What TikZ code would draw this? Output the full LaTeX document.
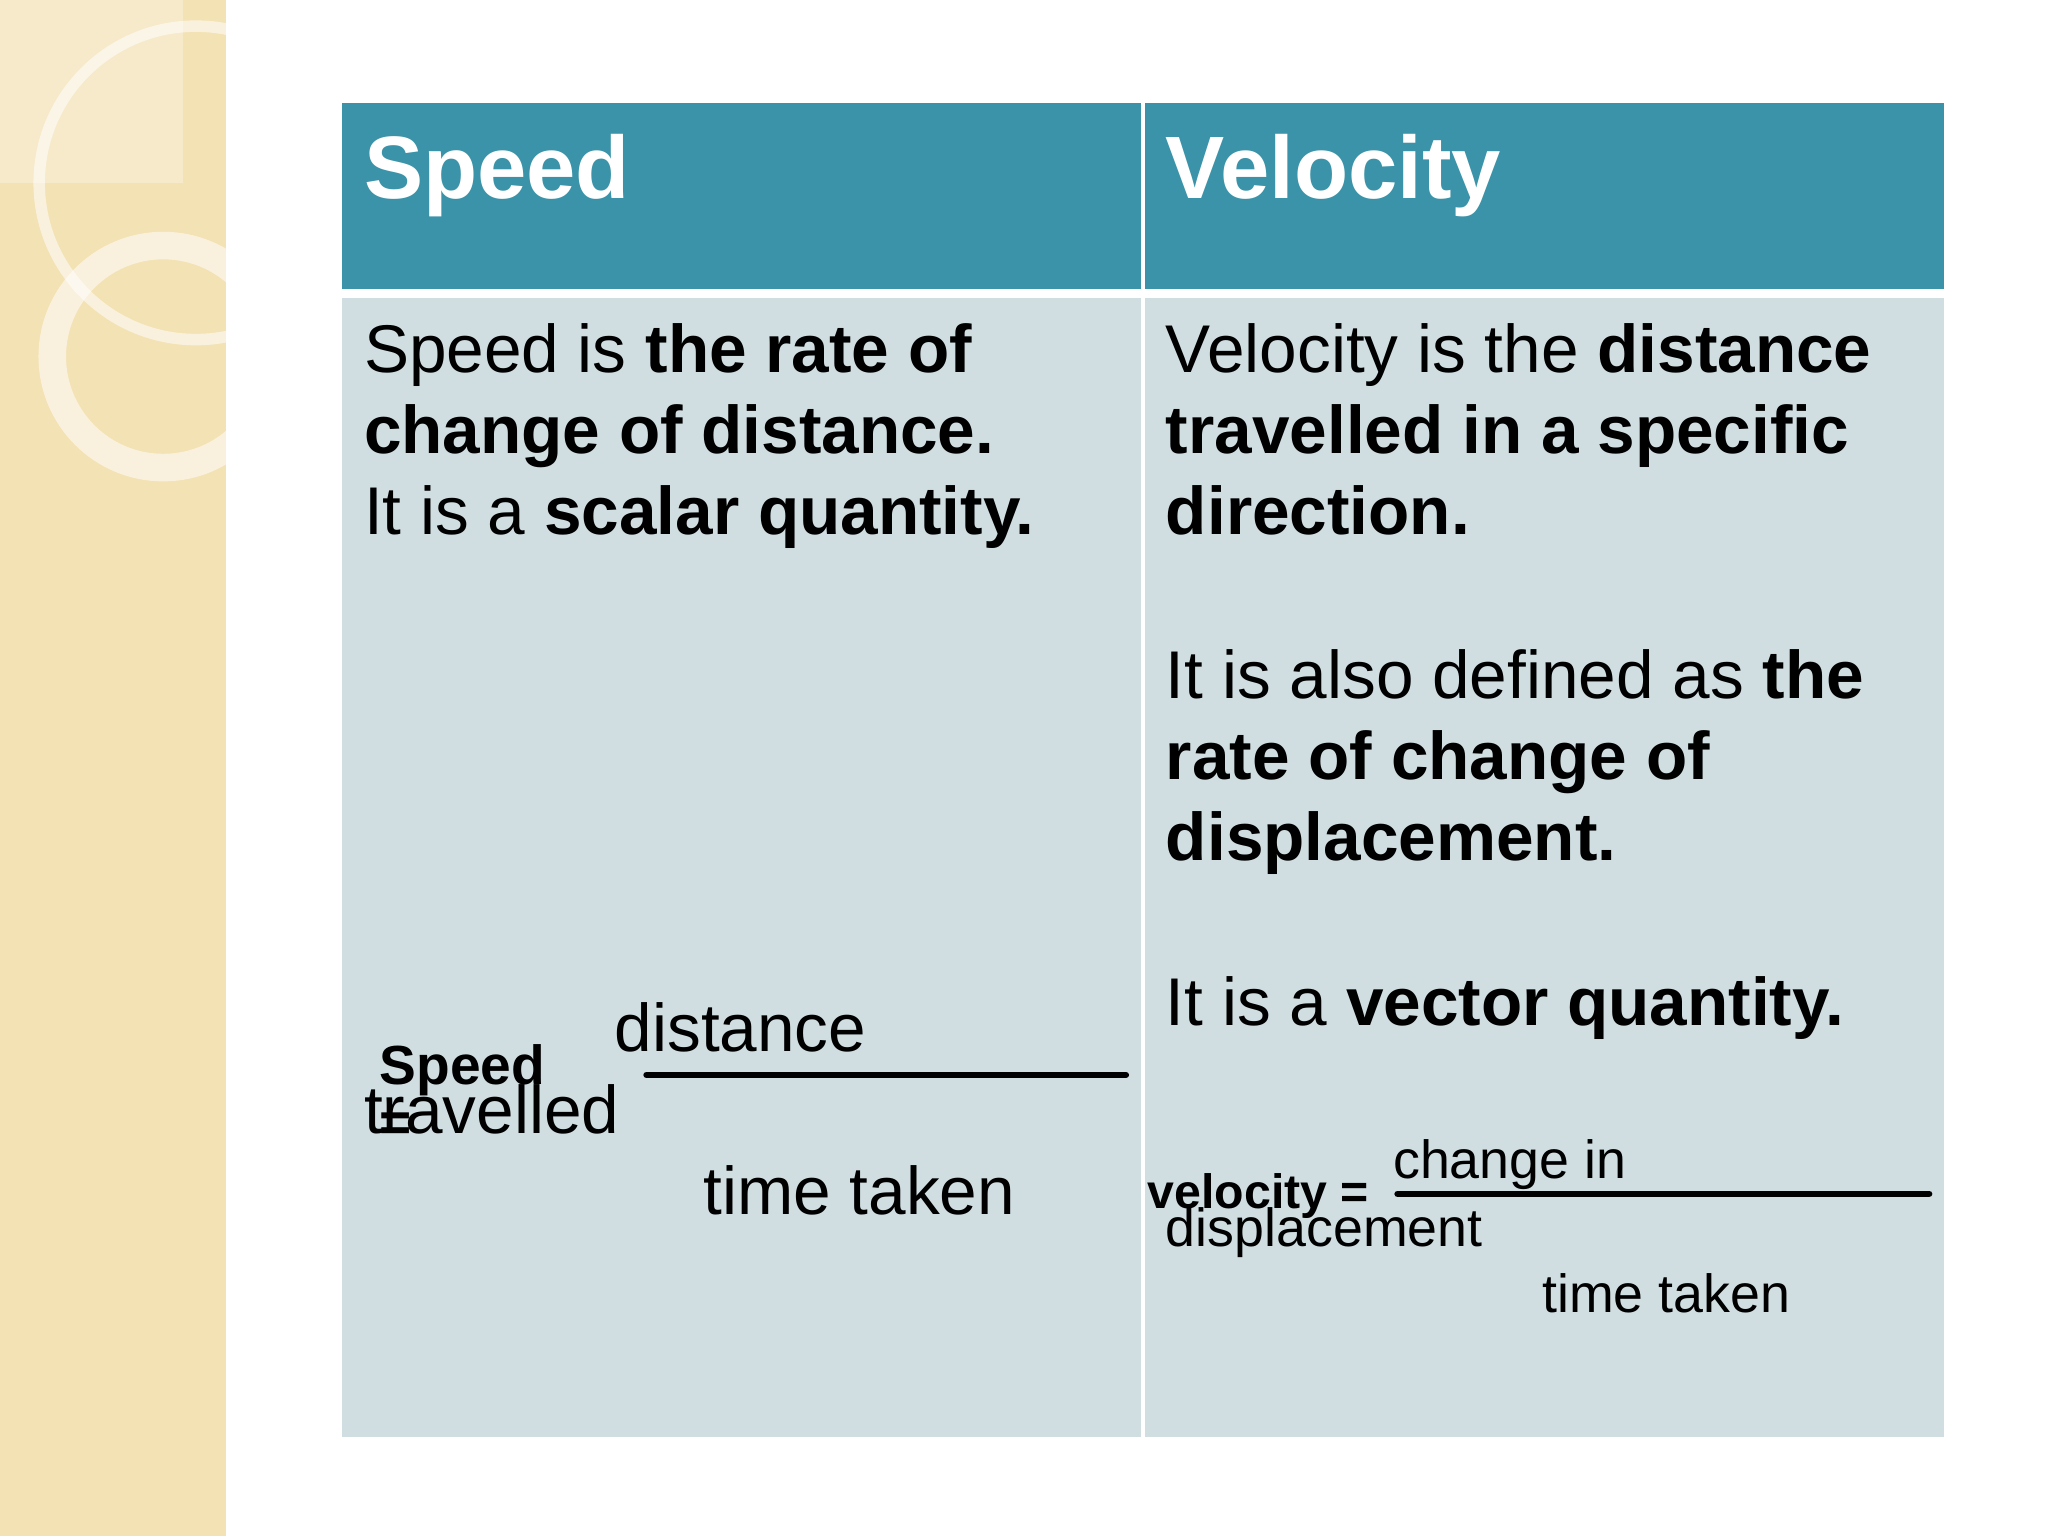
\documentclass[tikz,border=0pt]{standalone}
\usepackage{fontspec}
\setmainfont{Liberation Sans}
\definecolor{headc}{RGB}{58,147,168}
\definecolor{bodyc}{RGB}{208,222,226}
\definecolor{stripc}{RGB}{243,226,180}
\begin{document}
\begin{tikzpicture}[x=0.01cm,y=-0.01cm,
  body/.style={anchor=base west,inner sep=0pt,font=\fontsize{14.7}{17}\selectfont},
  small/.style={anchor=base west,inner sep=0pt,font=\fontsize{11.7}{14}\selectfont},
  head/.style={anchor=base west,inner sep=0pt,text=white,font=\fontsize{19.3}{22}\selectfont\bfseries}]
\useasboundingbox (0,0) rectangle (1568,1176);
\fill[white] (0,0) rectangle (1568,1176);
\fill[stripc] (0,0) rectangle (173,1176);
\fill[white,opacity=0.3] (0,0) rectangle (140,140);
\begin{scope}
\clip (0,0) rectangle (173,1176);
\draw[white,line width=2.5pt,opacity=0.55] (150,140) circle (120);
\draw[white,line width=6pt,opacity=0.55] (125,273) circle (85);
\end{scope}
% table
\fill[headc] (262,79) rectangle (1488,221);
\fill[bodyc] (262,228) rectangle (1488,1100);
\draw[white,line width=1pt] (875,79) -- (875,1100);
\node[head] (h1) at (278,152) {Speed};
\node[head] (h2) at (892,152) {Velocity};
% left body
\node[body] (l1) at (278,285) {Speed is \textbf{the rate of}};
\node[body] (l2) at (278,347) {\textbf{change of distance.}};
\node[body] (l3) at (278,409) {It is a \textbf{scalar quantity.}};
% right body
\node[body] (r1) at (892,285) {Velocity is the \textbf{distance}};
\node[body] (r2) at (892,347) {\textbf{travelled in a specific}};
\node[body] (r3) at (892,409) {\textbf{direction.}};
\node[body] (r4) at (892,535) {It is also defined as \textbf{the}};
\node[body] (r5) at (892,597) {\textbf{rate of change of}};
\node[body] (r6) at (892,659) {\textbf{displacement.}};
\node[body] (r7) at (892,785) {It is a \textbf{vector quantity.}};
% left formula
\node[body] (fd) at (470,805) {distance};
\coordinate (fl1) at (495,823); \coordinate (fl2) at (862,823);
\draw[line width=1.4pt,line cap=round] (fl1) -- (fl2);
\node[small,font=\fontsize{12}{14}\selectfont\bfseries] (fs) at (290,830) {Speed};
\node[body] (ft) at (278,868) {travelled};
\node[small,font=\fontsize{12}{14}\selectfont\bfseries] (feq) at (290,874) {=};
\node[body] (ftt) at (538,930) {time taken};
% right formula
\node[small] (vc) at (1066,902) {change in};
\coordinate (vl1) at (1070,914); \coordinate (vl2) at (1477,914);
\draw[line width=1.4pt,line cap=round] (vl1) -- (vl2);
\node[small,font=\fontsize{10.5}{12}\selectfont\bfseries] (vv) at (878,925) {velocity =};
\node[small] (vd) at (892,954) {displacement};
\node[small] (vt) at (1180,1005) {time taken};
\end{tikzpicture}
\end{document}
